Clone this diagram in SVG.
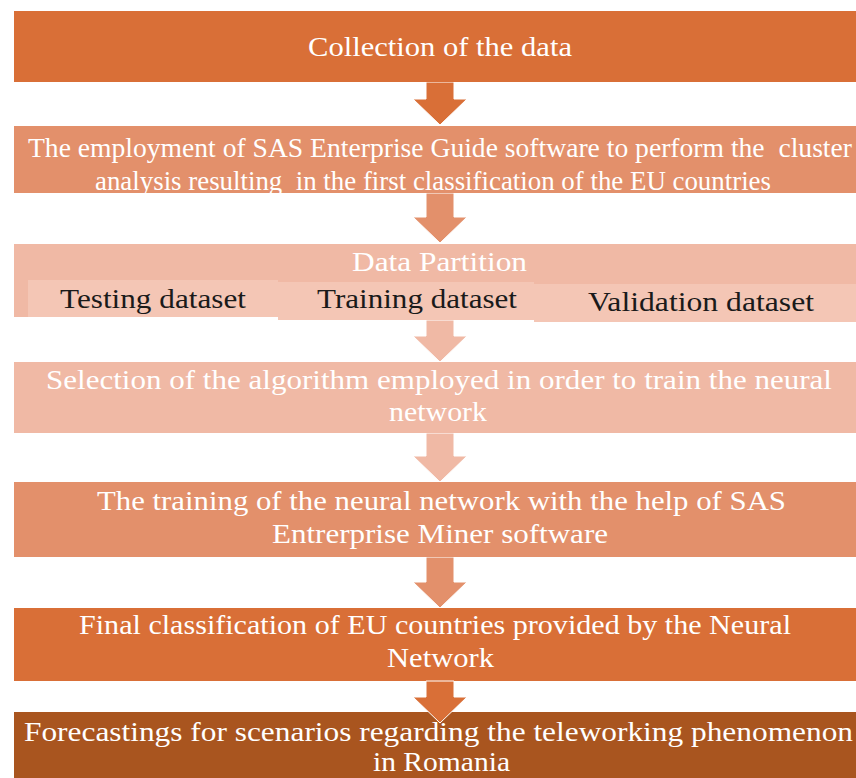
<svg xmlns="http://www.w3.org/2000/svg" width="856" height="778" viewBox="0 0 856 778">
<style>
.t{font-family:"Liberation Serif","DejaVu Serif",serif;font-size:27px;fill:#ffffff;white-space:pre}
.d{font-family:"Liberation Serif","DejaVu Serif",serif;font-size:27px;fill:#1a1a1a}
.c1{fill:#D96F37}.c2{fill:#E3906B}.c3{fill:#F0B9A5}.c7{fill:#A9551F}.sub{fill:#F4C6B5}
.arr{stroke:#ffffff;stroke-width:1}
</style>
<rect width="856" height="778" fill="#ffffff"/>
<g id="connectors">
<polygon class="c1 arr" points="426,82 454,82 454,99 467,99 440,125 413,99 426,99"/>
<polygon class="c2 arr" points="426,193 454,193 454,217 467,217 440,243 413,217 426,217"/>
<polygon class="c3 arr" points="426,320 454,320 454,336 467,336 440,362 413,336 426,336"/>
<polygon class="c3 arr" points="426,433 454,433 454,456 467,456 440,482 413,456 426,456"/>
<polygon class="c2 arr" points="426,557 454,557 454,582 467,582 440,608 413,582 426,582"/>
</g>
<g id="n1">
<rect class="c1" x="14" y="11" width="850" height="71"/>
<text class="t" x="308" y="56" textLength="264" lengthAdjust="spacingAndGlyphs">Collection of the data</text>
</g>
<g id="n2">
<rect class="c2" x="14" y="126" width="850" height="67"/>
<text class="t" x="28" y="157" textLength="824" lengthAdjust="spacingAndGlyphs">The employment of SAS Enterprise Guide software to perform the  cluster</text>
<text class="t" x="95" y="190" textLength="676" lengthAdjust="spacingAndGlyphs">analysis resulting  in the first classification of the EU countries</text>
</g>
<g id="n3">
<rect class="c3" x="14" y="244" width="850" height="73"/>
<text class="t" x="352" y="271" textLength="175" lengthAdjust="spacingAndGlyphs">Data Partition</text>
<g id="n3a">
<rect class="sub" x="28" y="280" width="250" height="37"/>
<text class="d" x="60" y="308" textLength="186" lengthAdjust="spacingAndGlyphs">Testing dataset</text>
</g>
<g id="n3b">
<rect class="sub" x="278" y="282" width="256" height="38"/>
<text class="d" x="317" y="308" textLength="200" lengthAdjust="spacingAndGlyphs">Training dataset</text>
</g>
<g id="n3c">
<rect class="sub" x="534" y="284" width="330" height="38"/>
<text class="d" x="588" y="311" textLength="226" lengthAdjust="spacingAndGlyphs">Validation dataset</text>
</g>
</g>
<g id="n4">
<rect class="c3" x="14" y="362" width="850" height="71"/>
<text class="t" x="46" y="389" textLength="786" lengthAdjust="spacingAndGlyphs">Selection of the algorithm employed in order to train the neural</text>
<text class="t" x="389" y="421" textLength="98" lengthAdjust="spacingAndGlyphs">network</text>
</g>
<g id="n5">
<rect class="c2" x="14" y="482" width="850" height="75"/>
<text class="t" x="97" y="510" textLength="689" lengthAdjust="spacingAndGlyphs">The training of the neural network with the help of SAS</text>
<text class="t" x="272" y="543" textLength="336" lengthAdjust="spacingAndGlyphs">Entrerprise Miner software</text>
</g>
<g id="n6">
<rect class="c1" x="14" y="608" width="850" height="73"/>
<text class="t" x="79" y="634" textLength="712" lengthAdjust="spacingAndGlyphs">Final classification of EU countries provided by the Neural</text>
<text class="t" x="387" y="667" textLength="107" lengthAdjust="spacingAndGlyphs">Network</text>
</g>
<g id="n7">
<rect class="c7" x="14" y="712" width="850" height="70"/>
<text class="t" x="24" y="741" textLength="829" lengthAdjust="spacingAndGlyphs">Forecastings for scenarios regarding the teleworking phenomenon</text>
<text class="t" x="373" y="771" textLength="137" lengthAdjust="spacingAndGlyphs">in Romania</text>
</g>
<g id="connectors-top">
<polygon class="c1 arr" points="426,681 454,681 454,697 467,697 440,723 413,697 426,697"/>
</g>
</svg>
